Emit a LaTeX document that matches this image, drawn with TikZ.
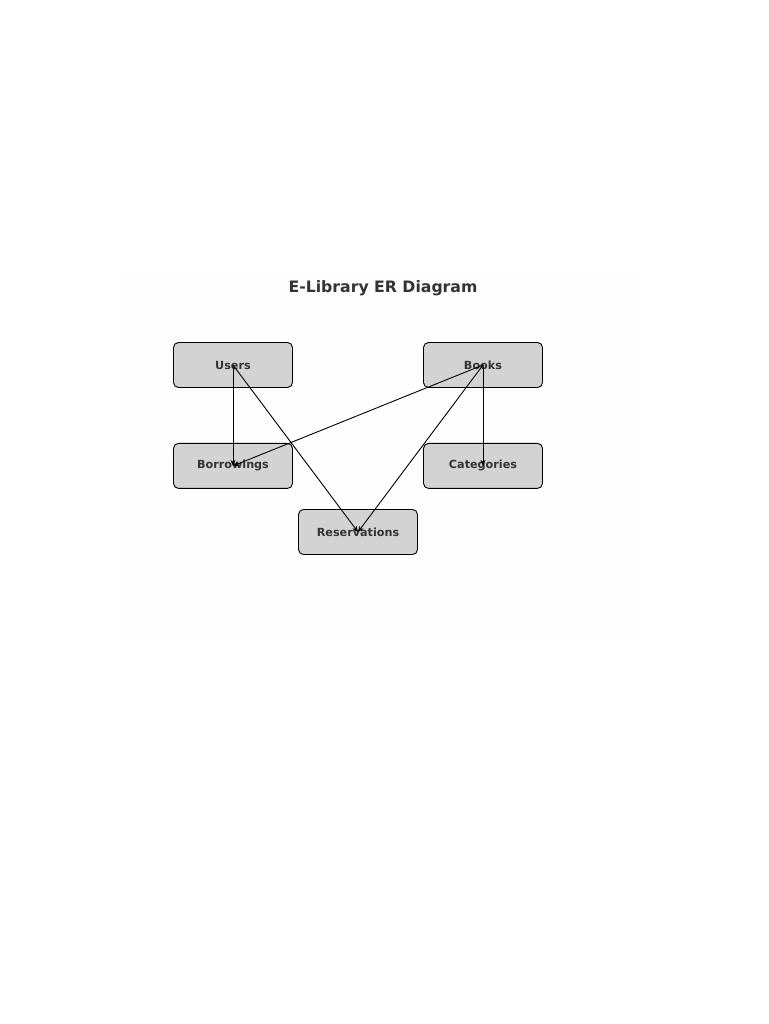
\documentclass[tikz,border=0pt]{standalone}
\usepackage{fontspec}
\setmainfont{DejaVu Sans}
\usetikzlibrary{positioning,arrows.meta}
\definecolor{boxgray}{HTML}{D3D3D3}
\definecolor{txtgray}{HTML}{333333}
\definecolor{panel}{HTML}{FDFDFD}
\tikzset{block/.style={draw,line width=0.9pt,fill=boxgray,rounded corners=5pt,minimum width=119pt,minimum height=45pt,align=center,text=txtgray,font=\fontsize{11.2}{13}\selectfont\bfseries},
         heading/.style={text=txtgray,font=\fontsize{15.7}{18}\selectfont\bfseries}
}
\tikzstyle{arrow} = [line width=0.9pt,-{Stealth[length=6pt,width=5pt]}]
\begin{document}
\begin{tikzpicture}[x=1pt,y=-1pt]
\useasboundingbox (0,0) rectangle (768,1024);
\fill[white] (0,0) rectangle (768,1024);
\fill[panel] (127,272) rectangle (640,640);

\node[heading] (title) at (383,288) {E-Library ER Diagram};
\node[block] (users) at (233,365) {Users};
\node[block] (books) at (483,365) {Books};
\node[block,below=55pt of users] (borrow) {Borrowings};
\node[block,below=55pt of books] (cat) {Categories};
\node[block] (reserv) at (358,532) {Reservations};
\draw[arrow] (users.center)--(borrow.center);
\draw[arrow] (users.center)--(reserv.center);
\draw[arrow] (books.center)--(borrow.center);
\draw[arrow] (books.center)--(reserv.center);
\draw[arrow] (books.center)--(cat.center);

\end{tikzpicture}
\end{document}
